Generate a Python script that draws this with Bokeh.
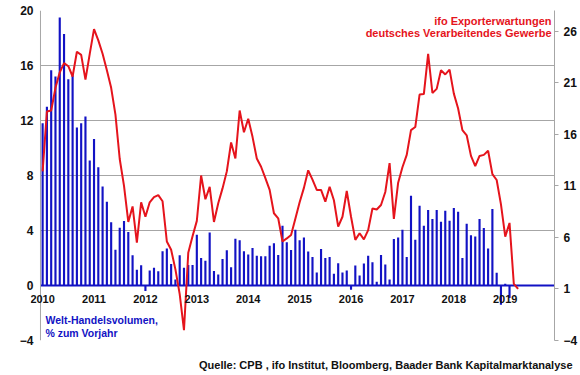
from bokeh.plotting import figure
from bokeh.models import (LinearAxis, Range1d, FixedTicker, Span, Label, LabelSet,
                          ColumnDataSource, BoxAnnotation, Title)
from bokeh.core.properties import value
from bokeh.embed import file_html
from bokeh.resources import INLINE

# ---- data (monthly, Jan 2010 = index 0) ----
years = ["2010", "2011", "2012", "2013", "2014", "2015", "2016", "2017", "2018", "2019"]

# World trade volume, % y/y (left axis)
trade = [
    11.8, 13.0, 15.65, 15.2, 19.5, 18.3, 15.0, 15.3, 11.5, 11.8, 12.3, 9.1,
    10.65, 8.6, 7.2, 6.1, 4.6, 2.6, 4.2, 4.7, 3.9, 2.2, 1.15, 1.47,
    -0.4, 1.1, 1.3, 1.04, 2.5, 2.7, 1.57, 0.43, 2.2, 1.3, 1.5, 1.5,
    3.7, 2.0, 1.8, 3.86, 1.05, 0.8, 1.93, 2.56, 1.33, 3.4, 3.3, 2.5,
    2.25, 2.73, 2.17, 2.13, 2.13, 2.9, 3.07, 2.22, 4.35, 3.14, 2.58, 4.06,
    3.3, 3.5, 2.48, 2.08, 0.95, 2.66, 2.0, 2.08, 0.85, 1.62, 0.95, 1.09,
    -0.3, 1.45, 0.72, 1.6, 2.17, 1.7, 0.27, 2.22, 1.52, 0.43, 3.38, 3.5,
    4.06, 2.08, 6.52, 3.33, 5.8, 4.35, 5.5, 4.83, 5.5, 4.64, 5.43, 4.71,
    5.63, 5.36, 2.0, 4.49, 3.65, 3.57, 4.83, 4.18, 2.7, 5.56, 0.92, -1.4,
    0.12, -0.9,
]

# ifo export expectations (right axis)
ifo = [
    12.4, 18.2, 18.3, 20.5, 22.0, 22.9, 22.6, 21.6, 24.0, 23.7, 21.3, 23.8,
    26.2, 25.1, 23.8, 22.2, 20.5, 17.9, 13.6, 11.0, 7.5, 9.0, 5.5, 9.4,
    8.0, 9.4, 9.9, 10.1, 9.5, 5.6, 4.8, 2.9, 0.5, -3.0, 4.5, 6.1,
    7.6, 12.0, 9.7, 10.9, 7.5, 9.3, 10.75, 12.4, 15.2, 13.65, 18.3, 16.2,
    17.5, 15.75, 13.65, 12.85, 11.75, 10.6, 8.34, 7.85, 5.6, 5.9, 6.24, 7.8,
    9.4, 10.8, 12.5, 11.6, 10.6, 10.6, 9.46, 10.9, 9.6, 7.05, 8.0, 10.5,
    8.0, 5.76, 6.4, 5.8, 6.7, 8.8, 8.7, 9.14, 10.4, 13.2, 7.8, 11.3,
    12.8, 14.0, 16.4, 16.7, 19.85, 19.9, 23.8, 20.0, 20.4, 22.2, 21.8, 22.26,
    19.94, 18.5, 16.4, 15.9, 13.9, 12.9, 13.9, 14.0, 14.4, 12.14, 11.56, 9.2,
    6.07, 7.4, 1.5, 1.0,
]

left_ticks = [-4, 0, 4, 8, 12, 16, 20]
right_ticks = [-4, 1, 6, 11, 16, 21, 26]

FONT = "Liberation Sans"
BLUE = "#1212C4"
RED = "#E5141C"
GRID = "#A6A6A6"

# frame extended ~10 px left of the y-axis so the first year label is not clipped
p = figure(width=580, height=375, x_range=Range1d(-2.83, 119.5), y_range=Range1d(-4, 20),
           output_backend="svg", toolbar_location=None, x_axis_location=None,
           min_border_left=30, min_border_right=24, min_border_top=10, min_border_bottom=34)
p.extra_y_ranges = {"ifo": Range1d(-4, 28)}
p.outline_line_color = None
p.background_fill_color = "white"
p.border_fill_color = "white"

for g in p.xgrid:
    g.visible = False
p.ygrid.ticker = FixedTicker(ticks=left_ticks)
p.ygrid.grid_line_color = GRID
p.ygrid.grid_line_width = 1

def style_axis(ax):
    ax.axis_line_color = GRID
    ax.major_tick_line_color = GRID
    ax.major_tick_in = 0
    ax.major_tick_out = 4
    ax.minor_tick_line_color = None
    ax.major_label_text_font = FONT
    ax.major_label_text_font_style = "bold"
    ax.major_label_text_font_size = "12px"
    ax.major_label_text_color = "#111111"

ly = p.yaxis[0]
ly.ticker = FixedTicker(ticks=left_ticks)
style_axis(ly)
ly.axis_line_color = None
ly.major_tick_out = 0
ly.major_label_standoff = -3

ry = LinearAxis(y_range_name="ifo", ticker=FixedTicker(ticks=right_ticks))
style_axis(ry)
ry.major_label_standoff = 5
p.add_layout(ry, "right")

months_t = list(range(len(trade)))
months_i = list(range(len(ifo)))

p.add_layout(Span(location=0, dimension="width", line_color=BLUE, line_width=2, level="underlay"))
p.add_layout(BoxAnnotation(right=-0.5, fill_color="white", fill_alpha=1.0, line_color=None, level="underlay"))
p.add_layout(Span(location=-0.5, dimension="height", line_color=GRID, line_width=1, level="underlay"))

p.vbar(x=months_t, top=trade, bottom=0, width=0.5, fill_color=BLUE, line_color=None)
p.line(x=months_i, y=ifo, y_range_name="ifo", line_color=RED, line_width=2)

ysrc = ColumnDataSource(dict(x=[12 * i for i in range(len(years))], y=[0] * len(years), t=years))
p.add_layout(LabelSet(x="x", y="y", text="t", source=ysrc, text_font=value(FONT), text_font_style="bold",
                      text_font_size="11px", text_align="center", text_baseline="middle",
                      y_offset=-13, text_color="#111111"))

def lab(x, y, t, color, align, size):
    p.add_layout(Label(x=x, y=y, text=t, text_color=color, text_font=FONT, text_font_style="bold",
                       text_font_size=size, text_align=align, text_baseline="middle"))

lab(118.8, 19.27, "ifo Exporterwartungen", RED, "right", "11px")
lab(118.8, 18.33, "deutsches Verarbeitendes Gewerbe", RED, "right", "11px")
lab(0.66, -2.54, "Welt-Handelsvolumen,", BLUE, "left", "10.5px")
lab(0.66, -3.48, "% zum Vorjahr", BLUE, "left", "10.5px")

# spacer panel below the frame, then the source line
p.add_layout(Title(text=" ", text_font_size="1px", standoff=8), "below")
p.add_layout(Title(text="Quelle: CPB , ifo Institut, Bloomberg, Baader Bank Kapitalmarktanalyse",
                   align="right", text_font=FONT, text_font_style="bold", text_font_size="11px",
                   text_color="#111111", standoff=10, offset=-18), "below")

open("out.html", "w").write(file_html(p, INLINE))
